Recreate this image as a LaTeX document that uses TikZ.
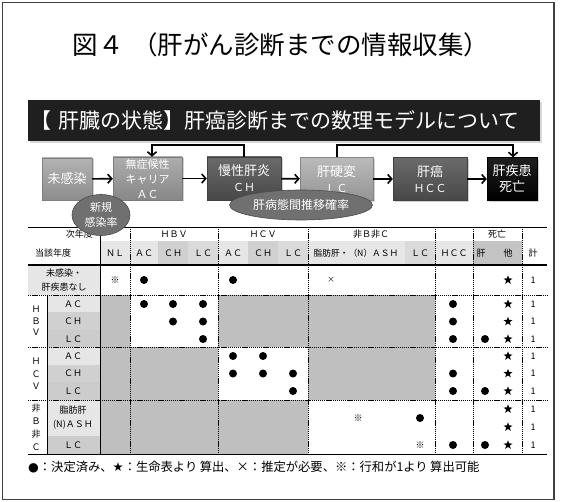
\documentclass[tikz,border=0pt]{standalone}
\usepackage{fontspec}
\setmainfont{Noto Sans CJK JP}
\newfontfamily\symfont{DejaVu Sans}
\usetikzlibrary{arrows.meta,shadows,shapes.geometric}
\definecolor{hl}{HTML}{E6E6E6}
\definecolor{hm}{HTML}{D0D0D0}
\definecolor{hx}{HTML}{DADADA}
\definecolor{hr}{HTML}{CCCCCC}
\definecolor{hd}{HTML}{C4C4C4}
\definecolor{bg}{HTML}{BFBFBF}
\tikzset{
  tl/.style={font=\fontsize{9}{10.5}\selectfont, inner sep=0pt},
  dotm/.style={circle, fill=black, minimum size=8pt, inner sep=0pt},
  starm/.style={star, star points=5, star point ratio=2.5, fill=black, minimum size=9.5pt, inner sep=0pt},
  dl/.style={dash pattern=on 1.3pt off 0.8pt, line width=0.75pt},
  fb/.style={rectangle, inner sep=0pt, text=white, align=center,
    drop shadow={opacity=0.35, shadow xshift=1.5pt, shadow yshift=-1.5pt}},
  arr/.style={-{Straight Barb[length=4pt,width=9pt]}, line width=1.6pt},
  ell/.style={ellipse, inner sep=0pt, fill=black!56, draw=black!70, line width=0.6pt, text=white, align=center}
}
\begin{document}
\begin{tikzpicture}[x=1pt,y=-1pt]
\useasboundingbox (0,0) rectangle (561,502);
\fill[white] (0,0) rectangle (561,502);
\draw[line width=1.3pt, black!75] (2.5,2.5) rectangle (554,499.5);

% title
\node[font=\fontsize{25.5}{28}\selectfont, inner sep=0pt] (title) at (281,45) {図４\hspace{0.35em}（肝がん診断までの情報収集）};

% banner
\node[rectangle, fill=black!88, minimum width=512pt, minimum height=41pt, inner sep=0pt, anchor=north west,
  drop shadow={opacity=0.3, shadow xshift=1.5pt, shadow yshift=-2pt}] (banner) at (28,100) {};
\node[anchor=west, text=white, font=\fontsize{21}{22}\selectfont, inner sep=0pt] (bannertxt) at (30,120.5) {【\hspace{0.35em}肝臓の状態】肝癌診断までの数理モデルについて};

% ---------- table fills ----------
\fill[hl] (100,241) rectangle (158,265);
\fill[hm] (158,241) rectangle (188,265);
\fill[hx] (188,241) rectangle (218,265);
\fill[hl] (218,241) rectangle (248,265);
\fill[hm] (248,241) rectangle (278,265);
\fill[hx] (278,241) rectangle (308,265);
\fill[hl] (308,241) rectangle (405,265);
\fill[hx] (405,241) rectangle (435,265);
\fill[hl] (435,241) rectangle (473,265);
\fill[hd] (473,241) rectangle (522,265);

\fill[hl] (28,265) rectangle (100,295);
\fill[hl] (47,295) rectangle (100,312.3);
\fill[hm] (47,312.3) rectangle (100,329.7);
\fill[hr] (47,329.7) rectangle (100,347);
\fill[hl] (47,347) rectangle (100,364.7);
\fill[hm] (47,364.7) rectangle (100,382.3);
\fill[hr] (47,382.3) rectangle (100,400);
\fill[hl] (47,400) rectangle (100,436);
\fill[hr] (47,436) rectangle (100,454);

\fill[bg] (100,295) rectangle (130,454);
\fill[bg] (218,295) rectangle (435,347);
\fill[bg] (130,347) rectangle (218,400);
\fill[bg] (308,347) rectangle (435,400);
\fill[bg] (130,400) rectangle (308,454);

% ---------- table lines ----------
\draw[line width=0.9pt] (28,227) -- (547,227);
\draw[line width=1.2pt] (28,265) -- (547,265);
\foreach \yy in {295,347,400} \draw[dl] (28,\yy) -- (547,\yy);
\draw[line width=1pt] (28,454) -- (547,454);
\draw[line width=0.9pt] (100,227) -- (100,454);
\draw[line width=0.9pt] (47,295) -- (47,454);
\foreach \xx in {130,218,308,435,473,522} \draw[dl] (\xx,227) -- (\xx,454);

% ---------- header text ----------
\node[tl, anchor=east] (h-next) at (93,234) {次年度};
\node[tl] (h-hbv) at (174,234) {ＨＢＶ};
\node[tl] (h-hcv) at (263,234) {ＨＣＶ};
\node[tl] (h-nbnc) at (371,234) {非Ｂ非Ｃ};
\node[tl] (h-death) at (497,234) {死亡};

\node[tl] (h-cur) at (53,253) {当該年度};
\node[tl] (c-nl) at (115,253) {ＮＬ};
\node[tl] (c-bac) at (144,253) {ＡＣ};
\node[tl] (c-bch) at (173,253) {ＣＨ};
\node[tl] (c-blc) at (203,253) {ＬＣ};
\node[tl] (c-cac) at (233,253) {ＡＣ};
\node[tl] (c-cch) at (263,253) {ＣＨ};
\node[tl] (c-clc) at (293,253) {ＬＣ};
\node[tl, font=\fontsize{8.7}{10.5}\selectfont] (c-nash) at (356,253) {脂肪肝・（N）ＡＳＨ};
\node[tl] (c-nlc) at (420,253) {ＬＣ};
\node[tl] (c-hcc) at (454,253) {ＨＣＣ};
\node[tl] (c-liv) at (481,253) {肝};
\node[tl] (c-oth) at (508,253) {他};
\node[tl] (c-sum) at (533,253) {計};

% row header text
\node[tl, align=center, font=\fontsize{9}{14}\selectfont] (r-un) at (64,280) {未感染・\\肝疾患なし};
\node[tl, align=center, font=\fontsize{9}{11.5}\selectfont] (r-hbv) at (36,321) {Ｈ\\Ｂ\\Ｖ};
\node[tl, align=center, font=\fontsize{9}{12.5}\selectfont] (r-hcv) at (36,374) {Ｈ\\Ｃ\\Ｖ};
\node[tl, align=center, font=\fontsize{9}{13}\selectfont] (r-nbnc) at (36,427) {非\\Ｂ\\非\\Ｃ};
\node[tl] (r-bac) at (73,304) {ＡＣ};
\node[tl] (r-bch) at (73,321.5) {ＣＨ};
\node[tl] (r-blc) at (73,339) {ＬＣ};
\node[tl] (r-cac) at (73,356) {ＡＣ};
\node[tl] (r-cch) at (73,373.5) {ＣＨ};
\node[tl] (r-clc) at (73,391) {ＬＣ};
\node[tl, align=center, font=\fontsize{9}{14}\selectfont] (r-nash) at (73,418) {脂肪肝\\(N)ＡＳＨ};
\node[tl] (r-nlc) at (73,445) {ＬＣ};

% ---------- body marks ----------
\foreach \xx/\yy [count=\i] in {144/280, 233/280,
   144/304, 173/304, 203/304, 453/304,
   173/321.5, 203/321.5, 453/321.5,
   203/339, 453/339, 485/339,
   233/356, 263/356,
   233/373.5, 263/373.5, 293/373.5, 453/373.5,
   293/391, 453/391, 485/391,
   420/418,
   453/445, 485/445}
  \node[dotm] (dot\i) at (\xx,\yy) {};
\foreach \yy [count=\i] in {280,304,321.5,339,356,373.5,391,409,427,445} {
  \node[starm] (star\i) at (508,\yy) {};
  \node[tl] (one\i) at (533,\yy) {1};
}
\node[tl] (k1) at (115,280) {※};
\node[tl] (k2) at (358,418) {※};
\node[tl] (k3) at (420,445) {※};
\node[tl, font=\fontsize{7.5}{9}\selectfont] (x1) at (331,280) {×};

% legend
\node[anchor=west, inner sep=0pt, font=\fontsize{12.3}{14}\selectfont] (legend) at (28,467)
  {{\symfont ●}：決定済み、{\symfont ★}：生命表より\hspace{0.2em}算出、×：推定が必要、※：行和が1より\hspace{0.2em}算出可能};

% ---------- flow chart ----------
\node[fb, top color=black!30, bottom color=black!45, draw=black!50, minimum width=50pt, minimum height=42pt,
  font=\fontsize{13}{16}\selectfont] (n0) at (67,179) {未感染};
\node[fb, top color=black!32, bottom color=black!47, draw=black!52, minimum width=69pt, minimum height=43pt,
  font=\fontsize{11}{15}\selectfont] (n1) at (147.5,178.5) {無症候性\\キャリア\\ＡＣ};
\node[fb, top color=black!58, bottom color=black!72, draw=black!75, minimum width=74pt, minimum height=43pt,
  font=\fontsize{13}{16}\selectfont] (n2) at (244,178.5) {慢性肝炎\\{\fontsize{11}{16}\selectfont ＣＨ}};
\node[fb, top color=black!27, bottom color=black!42, draw=black!48, minimum width=73pt, minimum height=43pt,
  font=\fontsize{13}{16}\selectfont] (n3) at (336.5,179) {肝硬変\\{\fontsize{11}{16}\selectfont ＬＣ}};
\node[fb, top color=black!58, bottom color=black!72, draw=black!75, minimum width=74pt, minimum height=43pt,
  font=\fontsize{13}{16}\selectfont] (n4) at (430,179) {肝癌\\{\fontsize{11}{16}\selectfont ＨＣＣ}};
\node[fb, top color=black!88, bottom color=black, draw=black, minimum width=50pt, minimum height=43pt,
  font=\fontsize{13}{16}\selectfont] (n5) at (512,179) {肝疾患\\死亡};

\draw[arr] (n0) -- (n1);
\draw[arr] (n1) -- (n2);
\draw[arr] (n2) -- (n3);
\draw[arr] (n3) -- (n4);
\draw[arr] (n4) -- (n5);
\draw[arr] (n2.north) -- ++(0,-12) -| ([xshift=4.5pt]n1.north);
\draw[arr] ([xshift=0.5pt]n3.north) -- ++(0,-12) -| ([xshift=1pt]n5.north);

% ellipses
\node[ell, minimum width=58pt, minimum height=41pt, font=\fontsize{11}{15}\selectfont] (e1) at (101,215) {新規\\感染率};
\node[ell, minimum width=143pt, minimum height=30pt, font=\fontsize{12}{14}\selectfont] (e2) at (301,205) {肝病態間推移確率};
\end{tikzpicture}
\end{document}
